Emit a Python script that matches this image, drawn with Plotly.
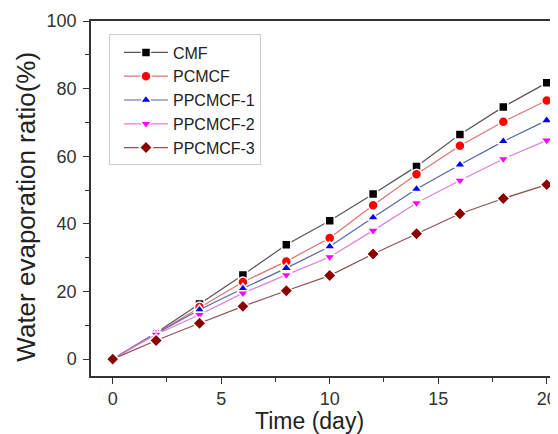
import plotly.graph_objects as go

days = [0, 2, 4, 6, 8, 10, 12, 14, 16, 18, 20]
series_names = ["CMF", "PCMCF", "PPCMCF-1", "PPCMCF-2", "PPCMCF-3"]
cmf = [0, 7.8, 16.3, 24.9, 33.8, 40.9, 48.8, 57.0, 66.4, 74.6, 81.7]
pcmcf = [0, 7.6, 15.4, 22.8, 28.9, 35.8, 45.5, 54.7, 63.1, 70.2, 76.5]
ppcmcf1 = [0, 7.5, 14.6, 20.9, 26.9, 33.3, 41.9, 50.3, 57.5, 64.4, 70.6]
ppcmcf2 = [0, 7.3, 13.1, 19.5, 24.9, 30.2, 38.0, 46.2, 52.8, 59.2, 64.7]
ppcmcf3 = [0, 5.5, 10.6, 15.6, 20.2, 24.7, 31.1, 37.1, 43.0, 47.5, 51.6]

values = [cmf, pcmcf, ppcmcf1, ppcmcf2, ppcmcf3]
marker_colors = ["#000000", "#ff0000", "#0000ee", "#ff00ff", "#8b0000"]
line_colors = ["#555555", "#e07070", "#5565b0", "#e080d8", "#905050"]
symbols = ["square", "circle", "triangle-up", "triangle-down", "diamond"]
sizes = [9, 10, 10, 10, 10]

FONT = "Arial, Liberation Sans, sans-serif"

fig = go.Figure()
for name, ys, mc, lc, sym, sz in zip(series_names, values, marker_colors, line_colors, symbols, sizes):
    fig.add_trace(go.Scatter(
        x=days, y=ys, name=name, mode="lines+markers",
        line=dict(color=lc, width=1.2),
        marker=dict(symbol=sym, size=sz, color=mc, line=dict(color="white", width=1.5)),
    ))

axis_common = dict(
    showgrid=False, zeroline=False, showline=True, linecolor="#333333", linewidth=1.5,
    ticks="outside", ticklen=6, tickwidth=1.2, tickcolor="#333333",
    tickfont=dict(family=FONT, size=18, color="#333333"),
)

# page body has an 8px margin; the figure is sized so the plot area lands where the reference has it
fig.update_layout(
    width=550, height=426,
    margin=dict(l=83, r=0, t=13, b=58),
    paper_bgcolor="white", plot_bgcolor="white",
    font=dict(family=FONT, color="#222222"),
    xaxis=dict(range=[-1, 20.52], tickmode="linear", tick0=0, dtick=5, mirror=True,
               automargin=False,
               minor=dict(dtick=2.5, ticks="outside", ticklen=4, tickcolor="#333333", tickwidth=1),
               **axis_common),
    yaxis=dict(range=[-5, 100], tickmode="linear", tick0=0, dtick=20, automargin=False,
               ticklabelstandoff=3,
               minor=dict(dtick=10, ticks="outside", ticklen=4, tickcolor="#333333", tickwidth=1),
               **axis_common),
    legend=dict(x=0.0385, y=0.962, xanchor="left", yanchor="top",
                bgcolor="white", bordercolor="#cccccc", borderwidth=1,
                font=dict(family=FONT, size=16, color="#222222"),
                indentation=9, itemwidth=44,
                tracegroupgap=0),
    showlegend=True,
    annotations=[
        dict(text="Water evaporation ratio(%)", xref="paper", yref="paper",
             x=-0.14, y=0.476, xanchor="center", yanchor="middle", textangle=-90,
             showarrow=False, font=dict(family=FONT, size=26, color="#222222")),
        dict(text="Time (day)", xref="paper", yref="paper",
             x=0.467, y=-0.126, xanchor="center", yanchor="middle",
             showarrow=False, font=dict(family=FONT, size=23, color="#222222")),
    ],
)

fig.write_html("out.html")
